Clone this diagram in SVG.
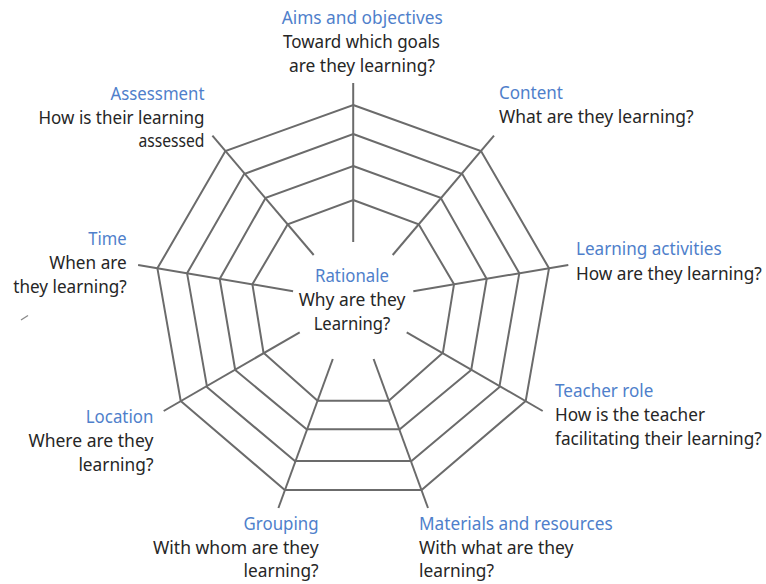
<svg xmlns="http://www.w3.org/2000/svg" width="766" height="584" viewBox="0 0 766 584">
  <style>
    .ring { fill: none; stroke: #6b6b6b; stroke-width: 2; stroke-linejoin: miter; }
    .spoke { stroke: #6b6b6b; stroke-width: 2; stroke-linecap: butt; }
    text { font-family: "Noto Sans", "Open Sans", sans-serif; font-size: 17.5px; }
    .title { fill: #4f7fcb; }
    .q { fill: #262626; }
    .mid { text-anchor: middle; }
    .end { text-anchor: end; }
  </style>

  <rect width="766" height="584" fill="#ffffff"/>

  <!-- concentric rings of the web, outermost first -->
  <g id="rings">
    <polygon class="ring" points="353.2,105 481,151 549,268.3 525.7,401 421.6,490 284.8,490 180.7,401 157.4,268.3 225.4,151"/>
    <polygon class="ring" points="353.2,134 462.3,174 519.3,273.3 499.3,387.3 411.5,461 294.9,461 207.1,387.3 187.1,273.3 244.1,174"/>
    <polygon class="ring" points="353.2,166 440.7,197.7 486.7,279 471.2,370 399.8,429.3 306.6,429.3 235.2,370 219.7,279 265.7,197.7"/>
    <polygon class="ring" points="353.2,200 418.7,224.3 454,284.3 442.9,352.7 388.8,400.7 317.6,400.7 263.5,352.7 252.4,284.3 287.7,224.3"/>
  </g>

  <!-- spokes from the centre out to each component -->
  <g id="connectors">
    <line class="spoke" x1="353.2" y1="83" x2="353.2" y2="242"/>
    <line class="spoke" x1="494" y1="135.7" x2="392.7" y2="255"/>
    <line class="spoke" x1="568.3" y1="265" x2="413.3" y2="291.2"/>
    <line class="spoke" x1="542.7" y1="411" x2="406.7" y2="332.3"/>
    <line class="spoke" x1="428" y1="508" x2="373.6" y2="359"/>
    <line class="spoke" x1="278.4" y1="508" x2="332.8" y2="359"/>
    <line class="spoke" x1="163.7" y1="411" x2="299.7" y2="332.3"/>
    <line class="spoke" x1="138.1" y1="265" x2="293.1" y2="291.2"/>
    <line class="spoke" x1="212.4" y1="135.7" x2="313.7" y2="255"/>
  </g>

  <!-- small stray pen mark on the left -->
  <line x1="21" y1="320" x2="28" y2="315.5" stroke="#8a8a8a" stroke-width="1.4"/>

  <g id="rationale">
    <text class="title mid" x="352" y="282" textLength="74" lengthAdjust="spacingAndGlyphs">Rationale</text>
    <text class="q mid" x="352" y="306" textLength="106.7" lengthAdjust="spacingAndGlyphs">Why are they</text>
    <text class="q mid" x="352" y="330" textLength="76.7" lengthAdjust="spacingAndGlyphs">Learning?</text>
  </g>

  <g id="aims">
    <text class="title mid" x="362.2" y="24" textLength="161" lengthAdjust="spacingAndGlyphs">Aims and objectives</text>
    <text class="q mid" x="361.5" y="48" textLength="157" lengthAdjust="spacingAndGlyphs">Toward which goals</text>
    <text class="q mid" x="362" y="72" textLength="146" lengthAdjust="spacingAndGlyphs">are they learning?</text>
  </g>

  <g id="content">
    <text class="title" x="499" y="99" textLength="64" lengthAdjust="spacingAndGlyphs">Content</text>
    <text class="q" x="499" y="123" textLength="194.6" lengthAdjust="spacingAndGlyphs">What are they learning?</text>
  </g>

  <g id="learning-activities">
    <text class="title" x="576" y="255" textLength="145.7" lengthAdjust="spacingAndGlyphs">Learning activities</text>
    <text class="q" x="576" y="280" textLength="185.7" lengthAdjust="spacingAndGlyphs">How are they learning?</text>
  </g>

  <g id="teacher-role">
    <text class="title" x="555" y="397" textLength="98.3" lengthAdjust="spacingAndGlyphs">Teacher role</text>
    <text class="q" x="555" y="421" textLength="150" lengthAdjust="spacingAndGlyphs">How is the teacher</text>
    <text class="q" x="555" y="445" textLength="206.7" lengthAdjust="spacingAndGlyphs">facilitating their learning?</text>
  </g>

  <g id="materials">
    <text class="title" x="419" y="530" textLength="193.7" lengthAdjust="spacingAndGlyphs">Materials and resources</text>
    <text class="q" x="419" y="554" textLength="154.5" lengthAdjust="spacingAndGlyphs">With what are they</text>
    <text class="q" x="419" y="577" textLength="75" lengthAdjust="spacingAndGlyphs">learning?</text>
  </g>

  <g id="grouping">
    <text class="title end" x="318.6" y="530" textLength="75" lengthAdjust="spacingAndGlyphs">Grouping</text>
    <text class="q end" x="318.6" y="554" textLength="165.6" lengthAdjust="spacingAndGlyphs">With whom are they</text>
    <text class="q end" x="318.6" y="577" textLength="75" lengthAdjust="spacingAndGlyphs">learning?</text>
  </g>

  <g id="location">
    <text class="title end" x="153.4" y="423" textLength="67.6" lengthAdjust="spacingAndGlyphs">Location</text>
    <text class="q end" x="153.4" y="447" textLength="125" lengthAdjust="spacingAndGlyphs">Where are they</text>
    <text class="q end" x="153.4" y="471" textLength="75" lengthAdjust="spacingAndGlyphs">learning?</text>
  </g>

  <g id="time">
    <text class="title end" x="126.7" y="245" textLength="38.4" lengthAdjust="spacingAndGlyphs">Time</text>
    <text class="q end" x="126.7" y="269" textLength="77.4" lengthAdjust="spacingAndGlyphs">When are</text>
    <text class="q end" x="126.7" y="293" textLength="113.4" lengthAdjust="spacingAndGlyphs">they learning?</text>
  </g>

  <g id="assessment">
    <text class="title end" x="204.5" y="100" textLength="94" lengthAdjust="spacingAndGlyphs">Assessment</text>
    <text class="q end" x="204.5" y="124" textLength="166" lengthAdjust="spacingAndGlyphs">How is their learning</text>
    <text class="q end" x="204.5" y="147" textLength="66" lengthAdjust="spacingAndGlyphs">assessed</text>
  </g>
</svg>
